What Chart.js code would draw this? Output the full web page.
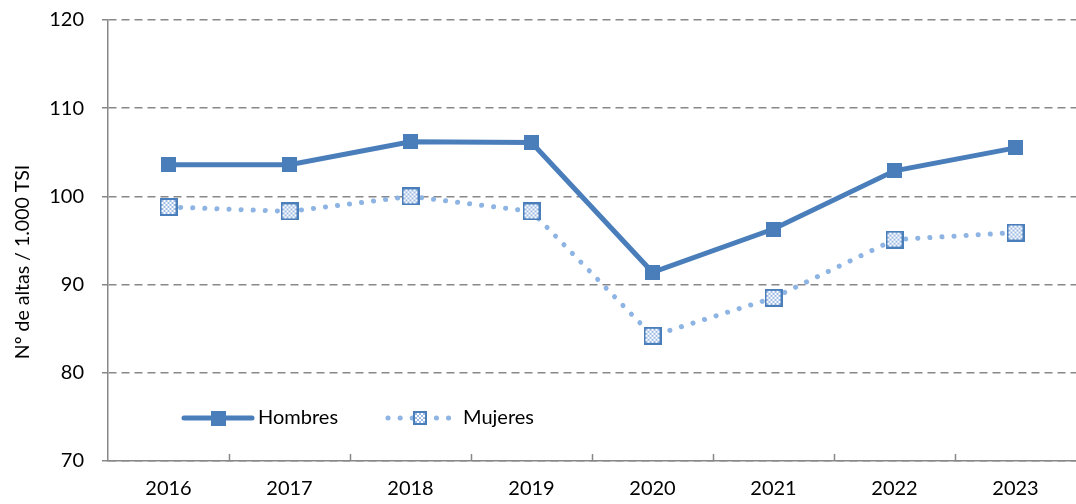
<!DOCTYPE html>
<html>
<head>
<meta charset="utf-8">
<script src="https://cdn.jsdelivr.net/npm/chart.js@4"></script>
<style>
  html, body { margin: 0; padding: 0; background: #fff; }
  #wrap { width: 1076px; height: 504px; position: relative; }
</style>
</head>
<body>
<div id="wrap"><canvas id="myChart"></canvas></div>
<script>
// data
const years = ['2016', '2017', '2018', '2019', '2020', '2021', '2022', '2023'];
const hombres = [103.6, 103.6, 106.2, 106.1, 91.4, 96.3, 102.9, 105.5];
const mujeres = [98.8, 98.3, 100.0, 98.3, 84.2, 88.5, 95.1, 95.9];
const yTicks = [70, 80, 90, 100, 110, 120];
const yTitle = 'Nº de altas / 1.000 TSI';

const blue = '#4A7EBB';
const lightBlue = '#8DB4E2';
const font = 'Lato, "Open Sans", sans-serif';

// hatched square marker for Mujeres
function makeHatchMarker(size) {
  const c = document.createElement('canvas');
  c.width = size; c.height = size;
  const g = c.getContext('2d');
  g.fillStyle = '#ffffff';
  g.fillRect(0, 0, size, size);
  g.fillStyle = '#9DBBE3';
  for (let y = 2; y < size - 2; y += 2) {
    for (let x = 2; x < size - 2; x += 2) {
      if (((x + y) / 2) % 2 === 0) g.fillRect(x, y, 2, 2);
    }
  }
  g.strokeStyle = blue;
  g.lineWidth = 2;
  g.strokeRect(1, 1, size - 2, size - 2);
  return c;
}

function makeSquare(size) {
  const c = document.createElement('canvas');
  c.width = size; c.height = size;
  const g = c.getContext('2d');
  g.fillStyle = blue;
  g.fillRect(0, 0, size, size);
  return c;
}

const mujMarker = makeHatchMarker(18);
const homMarker = makeSquare(15);

// ticks between categories on the x axis, pointing up
const xTicksPlugin = {
  id: 'xTicks',
  afterDatasetsDraw(chart) {
    const ctx = chart.ctx;
    const x = chart.scales.x;
    const step = (x.right - x.left) / years.length;
    ctx.save();
    ctx.strokeStyle = '#888';
    ctx.lineWidth = 1.5;
    ctx.beginPath();
    for (let i = 1; i < years.length; i++) {
      const px = Math.round(x.left + i * step) + 0.5;
      ctx.moveTo(px, x.top);
      ctx.lineTo(px, x.top - 7);
    }
    ctx.stroke();
    ctx.restore();
  }
};

// legend drawn inside the plot area + y axis title
const innerLegend = {
  id: 'innerLegend',
  afterDraw(chart) {
    const ctx = chart.ctx;
    const y = 418;
    ctx.save();
    ctx.lineCap = 'round';
    // Hombres
    ctx.strokeStyle = blue;
    ctx.lineWidth = 5;
    ctx.beginPath();
    ctx.moveTo(184, y); ctx.lineTo(252, y);
    ctx.stroke();
    ctx.drawImage(homMarker, 218 - 7.5, y - 7.5);
    // Mujeres
    ctx.strokeStyle = lightBlue;
    ctx.setLineDash([0.1, 12]);
    ctx.beginPath();
    ctx.moveTo(388, y); ctx.lineTo(452, y);
    ctx.stroke();
    ctx.setLineDash([]);
    ctx.drawImage(makeHatchMarker(14), 420 - 7, y - 7);
    ctx.fillStyle = '#000';
    ctx.font = '20px ' + font;
    ctx.textBaseline = 'middle';
    ctx.fillText('Hombres', 258, y);
    ctx.fillText('Mujeres', 463, y);

    // y title
    ctx.translate(23, 262);
    ctx.rotate(-Math.PI / 2);
    ctx.textAlign = 'center';
    ctx.font = '19.5px ' + font;
    ctx.fillText(yTitle, 0, 0);
    ctx.restore();
  }
};

new Chart('myChart', {
  type: 'line',
  data: {
    labels: years,
    datasets: [{
      label: 'Mujeres',
      data: mujeres,
      borderColor: lightBlue,
      borderWidth: 5,
      borderDash: [0.1, 12],
      borderCapStyle: 'round',
      pointStyle: mujMarker,
      tension: 0,
      order: 2
    }, {
      label: 'Hombres',
      data: hombres,
      borderColor: blue,
      backgroundColor: blue,
      borderWidth: 5,
      pointStyle: homMarker,
      tension: 0,
      order: 1
    }]
  },
  options: {
    responsive: true,
    maintainAspectRatio: false,
    animation: false,
    layout: { autoPadding: false, padding: { top: 20, right: -4, left: 0, bottom: 0 } },
    plugins: {
      legend: { display: false },
      tooltip: { enabled: false }
    },
    scales: {
      x: {
        offset: true,
        grid: { display: false, drawTicks: false },
        border: { color: '#888', width: 1.5 },
        ticks: { color: '#000', font: { family: font, size: 20 }, padding: 16, maxRotation: 0 },
        afterFit(scale) { scale.height = 43; }
      },
      y: {
        min: 70,
        max: 120,
        afterBuildTicks(scale) { scale.ticks = yTicks.map(v => ({ value: v })); },
        grid: {
          color: '#888',
          lineWidth: 1.5,
          drawTicks: true,
          tickLength: 6,
          tickBorderDash: [6, 4]
        },
        border: { color: '#888', width: 1.5, dash: [8, 5] },
        ticks: { color: '#000', font: { family: font, size: 20 }, padding: 18 },
        afterFit(scale) {
          scale.width = 108;
          scale.paddingTop = 0;
          scale.paddingBottom = 0;
        }
      }
    }
  },
  plugins: [xTicksPlugin, innerLegend]
});
</script>
</body>
</html>
